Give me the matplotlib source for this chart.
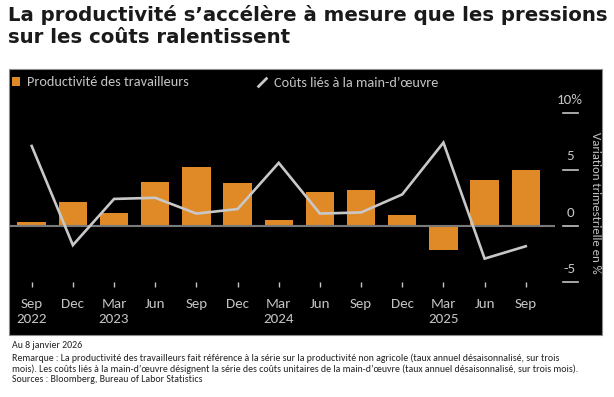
import matplotlib
matplotlib.use("Agg")
import matplotlib.pyplot as plt
from matplotlib.patches import Rectangle, Patch
from matplotlib.lines import Line2D

# ---- data ----
categories = ["Sep\n2022", "Dec", "Mar\n2023", "Jun", "Sep", "Dec", "Mar\n2024",
              "Jun", "Sep", "Dec", "Mar\n2025", "Jun", "Sep"]
productivity = [0.35, 2.15, 1.15, 3.9, 5.25, 3.8, 0.55, 3.05, 3.15, 0.95, -2.1, 4.1, 4.95]
labor_costs = [7.1, -1.7, 2.4, 2.5, 1.1, 1.5, 5.6, 1.1, 1.2, 2.8, 7.4, -2.9, -1.8]
ytick_values = [-5, 0, 5, 10]
ytick_labels = ["-5", "0", "5", "10%"]

title_lines = ["La productivité s’accélère à mesure que les pressions",
               "sur les coûts ralentissent"]
legend_labels = ["Productivité des travailleurs", "Coûts liés à la main-d’œuvre"]
ylabel = "Variation trimestrielle en %"
notes = ["Au 8 janvier 2026",
         "Remarque : La productivité des travailleurs fait référence à la série sur la productivité non agricole (taux annuel désaisonnalisé, sur trois",
         "mois). Les coûts liés à la main-d’œuvre désignent la série des coûts unitaires de la main-d’œuvre (taux annuel désaisonnalisé, sur trois mois).",
         "Sources : Bloomberg, Bureau of Labor Statistics"]

# ---- style ----
W, H = 614, 397
ORANGE = "#DF8A26"
LINE = "#C8C8C8"
TXT = "#C4C4C4"
CHART_FONT = ["Carlito", "DejaVu Sans"]
NOTE_FONT = ["Carlito", "DejaVu Sans"]
TITLE_FONT = ["DejaVu Sans"]

fig = plt.figure(figsize=(W / 100, H / 100), dpi=100)
fig.patch.set_facecolor("white")


def fx(px):
    return px / W


def fy(py):
    return 1 - py / H


# black panel (drawn below the axes)
fig.patches.append(Rectangle((fx(9), fy(335)), fx(602) - fx(9), fy(69) - fy(335),
                             transform=fig.transFigure, facecolor="black",
                             edgecolor="#8a8a8a", linewidth=0.8, zorder=-5))

# axes: x from 10 to 555 px, y from 113.3 (10) to 282.3 (-5)
ax = fig.add_axes([fx(10), fy(282.3), fx(555) - fx(10), fy(113.3) - fy(282.3)])
ax.set_facecolor("none")
ax.set_zorder(1)
x = list(range(len(categories)))
ax.bar(x, productivity, width=0.69, color=ORANGE, zorder=2)
ax.axhline(0, color="#7a7a7a", lw=1.5, zorder=3)
ax.plot(x, labor_costs, color=LINE, lw=1.9, zorder=4, solid_joinstyle="miter")

ax.set_xlim(-0.527, 12.71)
ax.set_ylim(-5, 10)
for s in ax.spines.values():
    s.set_visible(False)
ax.set_yticks([])
ax.set_xticks(x)
ax.set_xticklabels(categories, fontsize=10.8, color=TXT, family=CHART_FONT,
                   linespacing=1.26)
ax.tick_params(axis="x", length=3.8, width=1.0, color=TXT, pad=7.5)

# right-side ticks and labels
yt = ax.get_yaxis_transform()
x0 = (563 - 10) / 545
x1 = (578 - 10) / 545
xc = (570 - 10) / 545
for v, lab in zip(ytick_values, ytick_labels):
    ax.plot([x0, x1], [v, v], transform=yt, color=TXT, lw=1.2, clip_on=False)
    ax.annotate(lab, xy=(xc, v), xycoords=yt, xytext=(0, 9.5),
                textcoords="offset points", ha="center", va="center",
                fontsize=10.8, color=TXT, family=CHART_FONT)

fig.text(fx(595), fy(203), ylabel, rotation=270, ha="center", va="center",
         fontsize=9.2, color=TXT, family=CHART_FONT)

# legend
h1 = Patch(facecolor=ORANGE, edgecolor="none")
leg1 = fig.legend([h1], [legend_labels[0]], loc="center left",
                  bbox_to_anchor=(fx(12), fy(82.5)), frameon=False,
                  prop={"family": CHART_FONT, "size": 10.3},
                  handlelength=0.55, handleheight=0.55, handletextpad=0.5,
                  borderpad=0, borderaxespad=0)
for t in leg1.get_texts():
    t.set_color(TXT)
h2 = Line2D([], [], color=LINE, marker=[(-1, -1), (1, 1)], linestyle="None",
            markersize=7, markeredgewidth=2.0)
leg2 = fig.legend([h2], [legend_labels[1]], loc="center left",
                  bbox_to_anchor=(fx(257), fy(82.5)), frameon=False,
                  prop={"family": CHART_FONT, "size": 10.3},
                  handlelength=0.75, handletextpad=0.45,
                  borderpad=0, borderaxespad=0)
for t in leg2.get_texts():
    t.set_color(TXT)

# title
fig.text(fx(8), fy(20.7), title_lines[0], fontsize=14.2, fontweight="bold",
         color="#1a1a1a", family=TITLE_FONT, va="baseline")
fig.text(fx(8), fy(43.3), title_lines[1], fontsize=14.2, fontweight="bold",
         color="#1a1a1a", family=TITLE_FONT, va="baseline")

# notes
for yy, n in zip([346, 358.5, 369.5, 380], notes):
    fig.text(fx(12), fy(yy), n, fontsize=7.1, color="#222222", family=NOTE_FONT,
             va="center", ha="left")

fig.savefig("out.png", dpi=100, facecolor="white")
